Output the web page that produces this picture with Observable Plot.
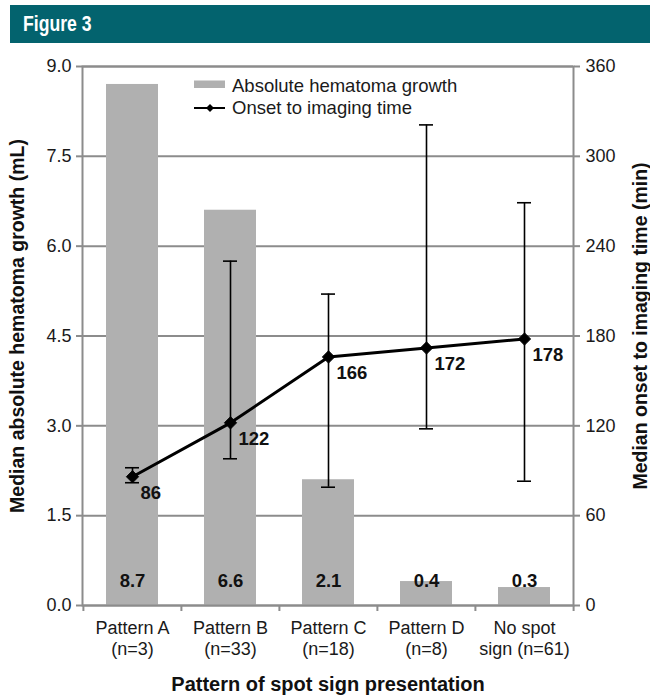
<!DOCTYPE html>
<html>
<head>
<meta charset="utf-8">
<script src="https://cdn.jsdelivr.net/npm/d3@7"></script>
<script src="https://cdn.jsdelivr.net/npm/@observablehq/plot@0.6"></script>
<style>
  html, body { margin: 0; padding: 0; background: white; }
  #wrap { position: relative; width: 650px; height: 695px; overflow: hidden; }
  #header {
    position: absolute; left: 10px; top: 5px; width: 640px; height: 38px;
    background: #03636e; color: white;
    font-family: "Liberation Sans", Arial, sans-serif;
    font-weight: bold; font-size: 22px;
    line-height: 38px; padding-left: 13px; box-sizing: border-box;
  }
  #header span { display: inline-block; transform: scaleX(0.8); transform-origin: left center; }
  #chart { position: absolute; left: 0; top: 0; }
  #legend { position: absolute; left: 0; top: 0; pointer-events: none; }
</style>
</head>
<body>
<div id="wrap">
  <div id="chart"></div>
  <div id="header"><span>Figure 3</span></div>
  <svg id="legend" width="650" height="130" font-family="Liberation Sans, Arial, sans-serif" font-size="18.5" fill="#1a1a1a">
    <rect x="194" y="80.5" width="31" height="7.5" fill="#b0b0b0"></rect>
    <text x="232" y="91.5">Absolute hematoma growth</text>
    <line x1="194" x2="225" y1="108" y2="108" stroke="black" stroke-width="2"></line>
    <path d="M210,104 L214,108 L210,112 L206,108 Z" fill="black"></path>
    <text x="232" y="113.5">Onset to imaging time</text>
  </svg>
</div>
<script>
// ---- data ----
const categories = ["Pattern A", "Pattern B", "Pattern C", "Pattern D", "No spot sign"];
const tickLabels = ["Pattern A\n(n=3)", "Pattern B\n(n=33)", "Pattern C\n(n=18)", "Pattern D\n(n=8)", "No spot\nsign (n=61)"];
const growth = [8.7, 6.6, 2.1, 0.4, 0.3];          // mL (left axis)
const onsetTime = [86, 122, 166, 172, 178];        // min (right axis)
const timeLow = [82, 98, 79, 118, 83];
const timeHigh = [92, 230, 208, 321, 269];
const leftTicks = [0, 1.5, 3, 4.5, 6, 7.5, 9];
const rightTicks = [0, 60, 120, 180, 240, 300, 360];

const factor = rightTicks[rightTicks.length - 1] / leftTicks[leftTicks.length - 1]; // 40

const data = categories.map((c, i) => ({
  cat: c, growth: growth[i], time: onsetTime[i], lo: timeLow[i], hi: timeHigh[i]
}));

const W = 650, H = 695, mL = 82, mR = 77, mT = 66, mB = 90;
const step = (W - mL - mR) / categories.length;
const grey = "#8c8c8c";
const font = "Liberation Sans, Arial, Helvetica, sans-serif";

const chart = Plot.plot({
  width: W, height: H,
  marginLeft: mL, marginRight: mR, marginTop: mT, marginBottom: mB,
  style: { fontFamily: font, fontSize: "18px", color: "#1a1a1a", background: "transparent", overflow: "visible" },
  x: { type: "band", domain: categories, paddingInner: 0.47, paddingOuter: 0.235, axis: null },
  y: { domain: [0, leftTicks[leftTicks.length - 1]], axis: null },
  marks: [
    Plot.gridY(leftTicks, { stroke: grey, strokeOpacity: 1, strokeWidth: 2 }),
    Plot.barY(data, { x: "cat", y: "growth", fill: "#b0b0b0" }),
    Plot.frame({ stroke: grey, strokeWidth: 2 }),
    // left axis
    Plot.axisY(leftTicks, {
      anchor: "left", tickSize: 6, tickPadding: 5, stroke: grey, strokeWidth: 2,
      tickFormat: d => d.toFixed(1), fontSize: 18, label: null
    }),
    // right axis (minutes)
    Plot.axisY(rightTicks.map(t => t / factor), {
      anchor: "right", tickSize: 6, tickPadding: 6, stroke: grey, strokeWidth: 2,
      tickFormat: d => String(Math.round(d * factor)), fontSize: 18, label: null
    }),
    // category boundary ticks
    Plot.axisX(categories, { tickSize: 6, text: null, dx: -step / 2, stroke: grey, strokeWidth: 2, label: null }),
    Plot.axisX([categories[categories.length - 1]], { tickSize: 6, text: null, dx: step / 2, stroke: grey, strokeWidth: 2, label: null }),
    // category labels
    Plot.axisX(categories, {
      tickSize: 0, tickPadding: 14, lineHeight: 1.15, fontSize: 18, label: null,
      tickFormat: d => tickLabels[categories.indexOf(d)]
    }),
    // error bars
    Plot.ruleX(data, { x: "cat", y1: d => d.lo / factor, y2: d => d.hi / factor, stroke: "black", strokeWidth: 1.6 }),
    Plot.tickY(data, { x: "cat", y: d => d.lo / factor, insetLeft: 19, insetRight: 19, stroke: "black", strokeWidth: 1.6 }),
    Plot.tickY(data, { x: "cat", y: d => d.hi / factor, insetLeft: 19, insetRight: 19, stroke: "black", strokeWidth: 1.6 }),
    // onset line
    Plot.line(data, { x: "cat", y: d => d.time / factor, stroke: "black", strokeWidth: 3 }),
    Plot.dot(data, { x: "cat", y: d => d.time / factor, symbol: "diamond2", fill: "black", stroke: "black", strokeWidth: 1, r: 5.5 }),
    Plot.text(data, {
      x: "cat", y: d => d.time / factor, text: d => String(d.time),
      dx: 8, dy: 16, textAnchor: "start", fontWeight: "bold", fontSize: 18.5, fill: "#111"
    }),
    // bar value labels
    Plot.text(data, {
      x: "cat", text: d => d.growth.toFixed(1), frameAnchor: "bottom", dy: -24,
      lineAnchor: "middle", fontWeight: "bold", fontSize: 18.5, fill: "#111"
    }),
    // axis titles
    Plot.text(["Pattern of spot sign presentation"], {
      frameAnchor: "bottom", dy: 79, lineAnchor: "middle", textAnchor: "middle",
      fontWeight: "bold", fontSize: 20, fill: "#111"
    }),
    Plot.text(["Median absolute hematoma growth (mL)"], {
      frameAnchor: "left", rotate: -90, dx: -65, dy: -10, textAnchor: "middle", lineAnchor: "middle",
      fontWeight: "bold", fontSize: 19.5, fill: "#111"
    }),
    Plot.text(["Median onset to imaging time (min)"], {
      frameAnchor: "right", rotate: -90, dx: 67, dy: -10, textAnchor: "middle", lineAnchor: "middle",
      fontWeight: "bold", fontSize: 19.5, fill: "#111"
    })
  ]
});
document.getElementById("chart").appendChild(chart);
</script>
</body>
</html>
